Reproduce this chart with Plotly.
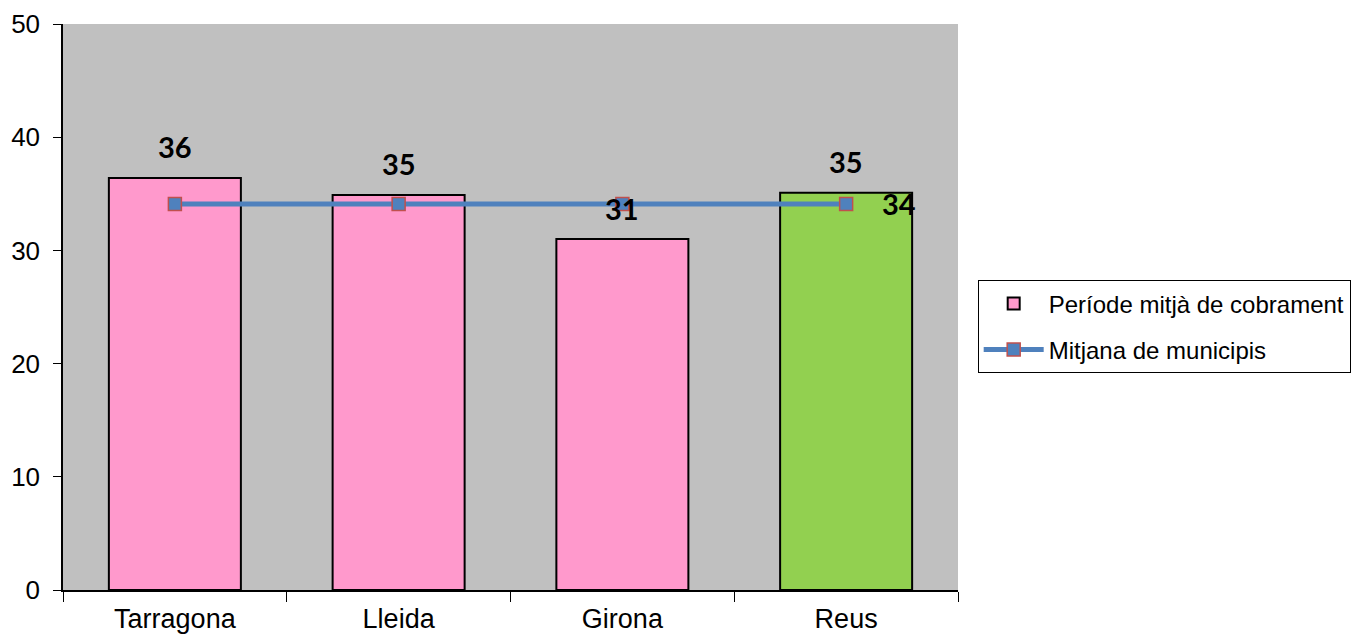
import plotly.graph_objects as go

# Dades del gràfic
municipis = ["Tarragona", "Lleida", "Girona", "Reus"]
periode_cobrament = [36.4, 34.9, 31.0, 35.1]
etiquetes_barres = ["36", "35", "31", "35"]
mitjana_municipis = [34.1, 34.1, 34.1, 34.1]
etiqueta_mitjana = "34"
colors_barres = ["#FF99CC", "#FF99CC", "#FF99CC", "#92D050"]

fig = go.Figure()

fig.add_trace(go.Bar(
    x=municipis,
    y=periode_cobrament,
    name="Període mitjà de cobrament",
    legendgroup="a",
    marker=dict(color=colors_barres, line=dict(color="black", width=2)),
))

fig.add_trace(go.Scatter(
    x=municipis,
    y=mitjana_municipis,
    mode="lines+markers",
    name="Mitjana de municipis",
    legendgroup="b",
    line=dict(color="#4F81BD", width=5),
    marker=dict(symbol="square", size=13, color="#4F81BD",
                line=dict(color="#C0504D", width=1.5)),
    cliponaxis=False,
))

etiq_font = dict(family="Lato", size=29, color="black", weight="bold")

# etiquetes de dades sobre les barres
for m, v, t in zip(municipis, periode_cobrament, etiquetes_barres):
    fig.add_annotation(x=m, y=v, text=t, showarrow=False, yshift=31, font=etiq_font)

# etiqueta de la mitjana (només l'últim punt)
fig.add_annotation(x=municipis[-1], y=mitjana_municipis[-1], text=etiqueta_mitjana,
                   showarrow=False, xanchor="left", xshift=34, font=etiq_font)

fig.update_layout(
    width=1370, height=637,
    margin=dict(l=55, r=420, t=16, b=55),
    plot_bgcolor="#C0C0C0",
    paper_bgcolor="white",
    bargap=0.41,
    showlegend=True,
    legend=dict(
        x=1.022, y=0.465, xanchor="left", yanchor="middle",
        bordercolor="black", borderwidth=1,
        font=dict(family="Arial", size=24, color="black"),
        tracegroupgap=12,
        itemwidth=60,
    ),
    font=dict(family="Arial", size=27, color="black"),
)

fig.update_yaxes(range=[0, 50], dtick=10, showgrid=False, zeroline=False,
                 showline=True, linecolor="black", linewidth=1.5,
                 ticks="outside", ticklen=8, tickcolor="black",
                 tickfont=dict(size=26), ticklabelstandoff=8, automargin=False)
fig.update_xaxes(showgrid=False, showline=True, linecolor="black", linewidth=1.5,
                 ticks="outside", ticklen=10, tickcolor="black",
                 tickson="boundaries", ticklabelstandoff=4, automargin=False)

fig.write_html("out.html")
